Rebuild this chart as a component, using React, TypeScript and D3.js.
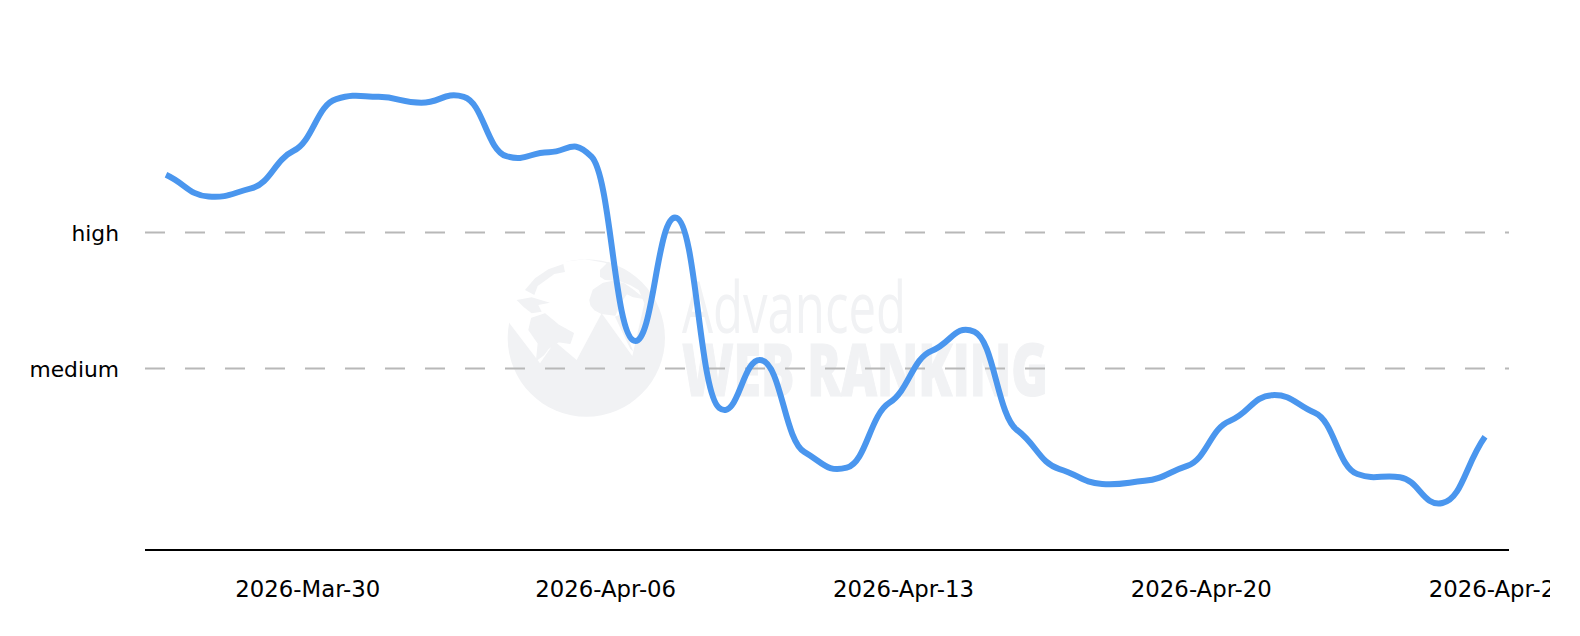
import React from "react";
import * as d3 from "d3";

const WIDTH = 1550;
const HEIGHT = 636;

const startDate = "2026-03-26T16:00:00Z";
const seriesValues = [
  82.7, 77.9, 79.7, 88.0, 99.4, 99.9, 98.6, 99.9, 86.8, 87.7, 86.7, 46.1,
  73.2, 31.3, 41.8, 21.6, 18.1, 32.4, 43.9, 48.1, 26.4, 17.8, 14.5, 15.2,
  18.5, 28.4, 34.1, 30.2, 16.7, 16.0, 10.3, 24.9,
];
const yTicks = [
  { label: "high", value: 70 },
  { label: "medium", value: 40 },
];
const xTickDates = ["2026-03-30", "2026-04-06", "2026-04-13", "2026-04-20", "2026-04-27"];

const watermarkTop = "Advanced";
const watermarkBottom = "WEB RANKING";

const FONT = "'DejaVu Sans', sans-serif";
const WM = "#f1f2f4";

const day = 86400000;
const t0 = new Date(startDate).getTime();
const points = seriesValues.map((v, i) => ({ date: new Date(t0 + i * day), v }));

// Hermite spline with long x-handles and damped slopes: gives the shouldered look.
const SLOPE = 0.46;
const HANDLE = 0.46;
function shoulderCurve(context: any) {
  let pts: [number, number][] = [];
  return {
    areaStart() {},
    areaEnd() {},
    lineStart() {
      pts = [];
    },
    point(px: number, py: number) {
      pts.push([px, py]);
    },
    lineEnd() {
      const n = pts.length;
      const slope = (i: number) => {
        const a = pts[Math.max(0, i - 1)];
        const b = pts[Math.min(n - 1, i + 1)];
        const k = i === 0 || i === n - 1 ? 0.9 : SLOPE;
        return (k * (b[1] - a[1])) / (b[0] - a[0]);
      };
      context.moveTo(pts[0][0], pts[0][1]);
      for (let i = 0; i < n - 1; i++) {
        const [x0, y0] = pts[i];
        const [x1, y1] = pts[i + 1];
        const h = (x1 - x0) * HANDLE;
        context.bezierCurveTo(x0 + h, y0 + slope(i) * h, x1 - h, y1 - slope(i + 1) * h, x1, y1);
      }
    },
  };
}

export default function App() {
  const x = d3
    .scaleUtc()
    .domain([new Date(t0), new Date(t0 + (seriesValues.length - 1) * day)])
    .range([166, 1485]);
  const y = d3.scaleLinear().domain([0, 70]).range([549.7, 232.4]);
  const line = d3
    .line<{ date: Date; v: number }>()
    .x((d) => x(d.date))
    .y((d) => y(d.v))
    .curve(shoulderCurve as any);
  const fmt = d3.utcFormat("%Y-%b-%d");

  return (
    <svg
      width={WIDTH}
      height={HEIGHT}
      style={{ position: "absolute", left: 0, top: 0, display: "block", background: "#fff" }}
    >
      <g transform="translate(495,250) scale(0.3333)" strokeLinejoin="round">
        <circle cx={274} cy={264} r={236} fill={WM} />
        <path
          d="M40 215 L135 340 L180 275 L245 330 L320 190 L412 318 L448 160 L425 105 L390 70 L330 38 L270 28 L200 36 L130 70 L80 120 L52 170 Z"
          fill="#fff"
        />
        <path
          d="M205 42 L210 66 L178 72 L150 92 L128 108 L118 135 L90 120 L120 85 L160 58 Z"
          fill={WM}
        />
        <path d="M65 150 L110 142 L165 158 L130 165 L140 185 L110 190 L85 170 Z" fill={WM} />
        <path
          d="M102 240 L110 205 L150 192 L190 225 L235 250 L225 280 L190 275 L160 295 L145 315 L125 330 L130 280 Z"
          fill={WM}
          stroke={WM}
          strokeWidth={4}
        />
        <path
          d="M285 150 L295 120 L325 100 L350 95 L385 100 L420 125 L445 145 L415 140 L395 130 L375 160 L360 195 L320 190 L300 180 L288 165 Z"
          fill={WM}
          stroke={WM}
          strokeWidth={4}
        />
        <path d="M315 60 L340 35 L380 60 L420 90 L440 125 L405 105 L370 92 L330 90 L315 80 Z" fill={WM} />
        <path d="M360 200 L372 195 L415 305 L405 295 Z" fill={WM} />
      </g>
      <text
        x={682}
        y={333}
        fontFamily="'Open Sans', sans-serif"
        fontWeight={400}
        fontSize={72}
        fill={WM}
        textLength={224}
        lengthAdjust="spacingAndGlyphs"
      >
        {watermarkTop}
      </text>
      <text
        x={682}
        y={396}
        fontFamily="'Open Sans', sans-serif"
        fontWeight={800}
        fontSize={73}
        fill={WM}
        stroke={WM}
        strokeWidth={1.2}
        textLength={366}
        lengthAdjust="spacingAndGlyphs"
      >
        {watermarkBottom}
      </text>

      {yTicks.map((t) => (
        <g key={t.label}>
          <line
            x1={145}
            x2={1509}
            y1={y(t.value)}
            y2={y(t.value)}
            stroke="#b8b8b8"
            strokeWidth={2}
            strokeDasharray="20 20"
          />
          <text
            x={119}
            y={y(t.value) + 9}
            textAnchor="end"
            fontFamily={FONT}
            fontSize={21.8}
            fill="#000"
          >
            {t.label}
          </text>
        </g>
      ))}

      <line x1={145} x2={1509} y1={550} y2={550} stroke="#000" strokeWidth={2} />
      {xTickDates.map((s) => {
        const d = new Date(s + "T00:00:00Z");
        return (
          <text
            key={s}
            x={x(d)}
            y={596.5}
            textAnchor="middle"
            fontFamily={FONT}
            fontSize={22.8}
            fill="#000"
          >
            {fmt(d)}
          </text>
        );
      })}

      <path d={line(points) ?? ""} fill="none" stroke="#4a96ee" strokeWidth={6} />
    </svg>
  );
}
